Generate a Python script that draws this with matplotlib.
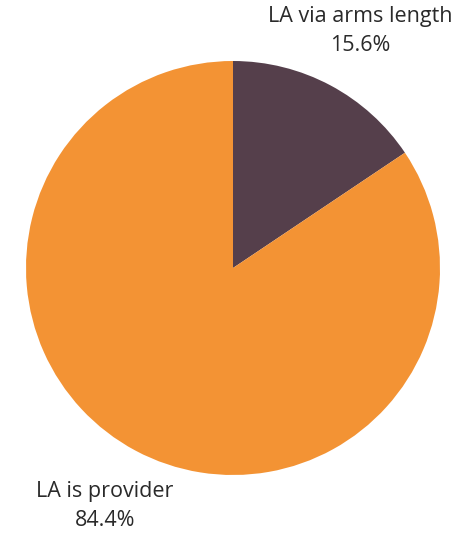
import matplotlib
matplotlib.use("Agg")
import matplotlib.pyplot as plt

# datos del grafico
categorias = ["LA via arms length", "LA is provider"]
porcentajes = [15.6, 84.4]
colores = ["#553F4B", "#F39334"]

W, H = 465, 533
fig = plt.figure(figsize=(W / 100, H / 100), dpi=100)

# el circulo: centro (233, 268) px, radio 207 px
cx, cy, r = 233, 268, 207
ax = fig.add_axes([(cx - r) / W, (H - cy - r) / H, 2 * r / W, 2 * r / H])
ax.pie(porcentajes, colors=colores, startangle=90, counterclock=False,
       radius=1, wedgeprops={"linewidth": 0})
ax.set_xlim(-1, 1)
ax.set_ylim(-1, 1)
ax.set_aspect("equal")
ax.axis("off")

# etiquetas con nombre y porcentaje
posiciones = [(360, 31), (105, 506)]
for nombre, valor, (px, py) in zip(categorias, porcentajes, posiciones):
    fig.text(px / W, 1 - py / H, f"{nombre}\n{valor}%", ha="center", va="center",
             fontsize=15.5, family="Open Sans", color="#2a2a2a", linespacing=1.45)

fig.savefig("out.png", dpi=100)
